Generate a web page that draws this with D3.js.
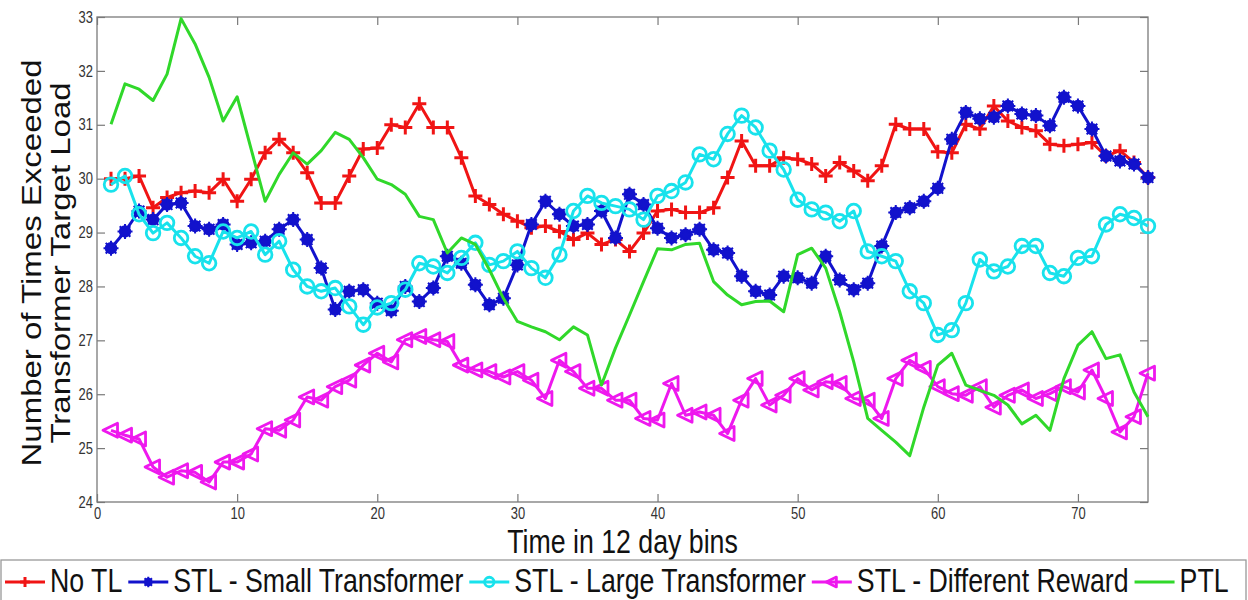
<!DOCTYPE html>
<html>
<head>
<meta charset="utf-8">
<script src="https://cdn.jsdelivr.net/npm/d3@7"></script>
<style>
  body { margin: 0; background: #fff; }
  svg { display: block; font-family: "Liberation Sans", Arial, sans-serif; }
  .axis path { display: none; }
  .axis line { stroke: #7a7a7a; stroke-width: 1.2; }
  .axis text { fill: #333; font-size: 16px; }
  .frame { fill: none; stroke: #7a7a7a; stroke-width: 1.3; }
  .series { fill: none; stroke-width: 3; stroke-linejoin: round; }
  .label { font-size: 33px; fill: #111; }
</style>
</head>
<body>
<svg id="chart" width="1248" height="600"></svg>
<script>
  // time bins 1..75
  var bins = d3.range(1, 76);

  var noTL = [30.0, 30.0, 30.05, 29.46, 29.65, 29.74, 29.77, 29.74, 29.99, 29.58,
    29.99, 30.48, 30.73, 30.48, 30.11, 29.55, 29.55, 30.05, 30.55, 30.57,
    31.0, 30.95, 31.39, 30.95, 30.95, 30.39, 29.68, 29.52, 29.34, 29.21,
    29.09, 29.12, 29.02, 28.87, 28.99, 28.78, 28.87, 28.65, 28.99, 29.4,
    29.43, 29.37, 29.37, 29.46, 30.02, 30.7, 30.24, 30.24, 30.39, 30.36,
    30.27, 30.05, 30.3, 30.14, 29.96, 30.24, 31.01, 30.92, 30.92, 30.5,
    30.48, 31.01, 30.92, 31.35, 31.07, 30.95, 30.89, 30.64, 30.61, 30.64,
    30.67, 30.42, 30.52, 30.3, 30.02];

  var stlSmall = [28.71, 29.02, 29.4, 29.24, 29.52, 29.55, 29.12, 29.06, 29.15, 28.78,
    28.81, 28.84, 29.06, 29.24, 28.87, 28.34, 27.57, 27.91, 27.94, 27.69,
    27.55, 28.0, 27.72, 27.97, 28.56, 28.43, 28.03, 27.66, 27.78, 28.4,
    29.15, 29.58, 29.34, 29.12, 29.15, 29.4, 28.9, 29.71, 29.52, 29.08,
    28.9, 28.96, 29.06, 28.68, 28.62, 28.19, 27.91, 27.84, 28.19, 28.16,
    28.06, 28.56, 28.12, 27.94, 28.06, 28.75, 29.37, 29.46, 29.58, 29.82,
    30.73, 31.23, 31.11, 31.14, 31.35, 31.2, 31.17, 30.98, 31.51, 31.35,
    30.92, 30.42, 30.33, 30.27, 30.02];

  var stlLarge = [29.89, 30.05, 29.34, 28.99, 29.18, 28.9, 28.56, 28.43, 29.02, 28.9,
    29.02, 28.59, 28.84, 28.31, 28.0, 27.91, 27.97, 27.63, 27.29, 27.61,
    27.69, 27.94, 28.43, 28.37, 28.25, 28.53, 28.81, 28.4, 28.47, 28.65,
    28.34, 28.16, 28.59, 29.4, 29.68, 29.55, 29.49, 29.43, 29.24, 29.68,
    29.77, 29.93, 30.45, 30.36, 30.83, 31.17, 30.95, 30.52, 30.17, 29.61,
    29.43, 29.37, 29.21, 29.4, 28.65, 28.56, 28.47, 27.91, 27.69, 27.1,
    27.19, 27.69, 28.5, 28.28, 28.37, 28.75, 28.75, 28.25, 28.19, 28.53,
    28.56, 29.15, 29.34, 29.27, 29.12];

  var diffReward = [25.33, 25.24, 25.17, 24.65, 24.46, 24.58, 24.55, 24.37, 24.74, 24.74,
    24.89, 25.36, 25.33, 25.52, 25.95, 25.89, 26.14, 26.26, 26.54, 26.76,
    26.6, 27.01, 27.07, 27.01, 26.98, 26.54, 26.45, 26.42, 26.32, 26.42,
    26.26, 25.92, 26.63, 26.42, 26.11, 26.11, 25.89, 25.89, 25.55, 25.52,
    26.2, 25.61, 25.67, 25.61, 25.27, 25.89, 26.29, 25.8, 25.98, 26.29,
    26.08, 26.23, 26.2, 25.92, 25.89, 25.55, 26.29, 26.63, 26.48, 26.14,
    26.01, 25.98, 26.14, 25.76, 25.98, 26.08, 25.92, 26.01, 26.14, 26.04,
    26.45, 25.92, 25.3, 25.58, 26.39];

  var ptl = [31.01, 31.76, 31.66, 31.45, 31.94, 32.97, 32.5, 31.88, 31.07, 31.52,
    30.55, 29.58, 30.08, 30.48, 30.27, 30.52, 30.86, 30.73, 30.39, 29.99,
    29.89, 29.71, 29.3, 29.24, 28.62, 28.9, 28.78, 28.31, 27.78, 27.35,
    27.25, 27.16, 27.01, 27.25, 27.1, 26.17, 26.86, 27.47, 28.09, 28.7,
    28.68, 28.78, 28.8, 28.09, 27.84, 27.66, 27.72, 27.73, 27.53, 28.59,
    28.71, 28.34, 27.53, 26.6, 25.55, 25.33, 25.11, 24.86, 25.76, 26.54,
    26.76, 26.17, 26.07, 25.98, 25.8, 25.45, 25.61, 25.33, 26.29, 26.91,
    27.16, 26.66, 26.73, 26.04, 25.58];

  var seriesNames = ["No TL", "STL - Small Transformer", "STL - Large Transformer",
    "STL - Different Reward", "PTL"];
  var seriesColors = ["#f01414", "#1212cc", "#18e2ec", "#ee18ee", "#30d82a"];
  var seriesMarkers = ["plus", "dot", "circle", "triangle", "none"];
  var xTicks = [0, 10, 20, 30, 40, 50, 60, 70];
  var yTicks = [24, 25, 26, 27, 28, 29, 30, 31, 32, 33];

  var series = [noTL, stlSmall, stlLarge, diffReward, ptl].map(function(vals, i) {
    return {name: seriesNames[i], color: seriesColors[i], marker: seriesMarkers[i], values: vals};
  });

  var squish = 0.81;   // the figure is narrower than its text
  var svg = d3.select('#chart');
  var plotL = 97, plotR = 1148, plotT = 17, plotB = 502;

  var x = d3.scaleLinear().domain([0, 75]).range([plotL, plotR]);
  var y = d3.scaleLinear().domain([24, 33]).range([plotB, plotT]);

  // axes, ticks pointing inwards on all four sides
  svg.append('g').attr('class', 'axis').attr('transform', `translate(0,${plotB})`)
    .call(d3.axisBottom(x).tickValues(xTicks).tickSizeInner(-8).tickSizeOuter(0).tickPadding(6))
    .selectAll('text').attr('transform', `scale(${squish},1)`);
  svg.append('g').attr('class', 'axis').attr('transform', `translate(0,${plotT})`)
    .call(d3.axisTop(x).tickValues(xTicks).tickSizeInner(-8).tickSizeOuter(0).tickFormat(''));
  svg.append('g').attr('class', 'axis').attr('transform', `translate(${plotL},0)`)
    .call(d3.axisLeft(y).tickValues(yTicks).tickSizeInner(-8).tickSizeOuter(0).tickPadding(5))
    .selectAll('text').attr('transform', `scale(${squish},1)`);
  svg.append('g').attr('class', 'axis').attr('transform', `translate(${plotR},0)`)
    .call(d3.axisRight(y).tickValues(yTicks).tickSizeInner(-8).tickSizeOuter(0).tickFormat(''));

  svg.append('rect').attr('class', 'frame')
    .attr('x', plotL).attr('y', plotT).attr('width', plotR - plotL).attr('height', plotB - plotT);

  function drawMarker(g, kind, color, s) {
    if (kind === 'plus') {
      g.append('path').attr('d', `M${-7*s},0H${7*s}M0,${-7*s}V${7*s}`)
        .attr('stroke', color).attr('stroke-width', 3).attr('fill', 'none');
    } else if (kind === 'dot') {
      g.append('circle').attr('r', 6.2 * s).attr('fill', color);
      g.append('path')
        .attr('d', `M${-7.5*s},0H${7.5*s}M0,${-7.5*s}V${7.5*s}M${-5.3*s},${-5.3*s}L${5.3*s},${5.3*s}M${-5.3*s},${5.3*s}L${5.3*s},${-5.3*s}`)
        .attr('stroke', color).attr('stroke-width', 2).attr('fill', 'none');
    } else if (kind === 'circle') {
      g.append('circle').attr('r', 6.8 * s).attr('fill', 'none')
        .attr('stroke', color).attr('stroke-width', 2.8);
    } else if (kind === 'triangle') {
      g.append('path').attr('d', `M${-8*s},0L${6.5*s},${-7*s}L${6.5*s},${7*s}Z`)
        .attr('fill', 'none').attr('stroke', color).attr('stroke-width', 2.8)
        .attr('stroke-linejoin', 'round');
    }
  }

  var line = d3.line().x(function(d, i) { return x(bins[i]); }).y(function(d) { return y(d); });

  series.forEach(function(s) {
    var g = svg.append('g');
    g.append('path').attr('class', 'series').attr('stroke', s.color).attr('d', line(s.values));
    if (s.marker !== 'none') {
      g.selectAll('.m').data(s.values).enter().append('g').attr('class', 'm')
        .attr('transform', function(d, i) { return `translate(${x(bins[i])},${y(d)})`; })
        .each(function() { drawMarker(d3.select(this), s.marker, s.color, 1); });
    }
  });

  // axis titles
  svg.append('text').attr('class', 'label').attr('text-anchor', 'middle')
    .attr('transform', `translate(${(plotL + plotR) / 2},553) scale(${squish},1)`)
    .text('Time in 12 day bins');
  svg.append('text').attr('class', 'label').attr('text-anchor', 'middle')
    .attr('transform', `translate(41,263) scale(${squish},1) rotate(-90)`)
    .text('Number of Times Exceeded');
  svg.append('text').attr('class', 'label').attr('text-anchor', 'middle')
    .attr('transform', `translate(70,263) scale(${squish},1) rotate(-90)`)
    .text('Transformer Target Load');

  // legend along the bottom
  svg.append('rect').attr('x', 1).attr('y', 560).attr('width', 1245).attr('height', 60)
    .attr('fill', '#fff').attr('stroke', '#999').attr('stroke-width', 1.3);
  var lx = 5, ly = 582;
  series.forEach(function(s) {
    var g = svg.append('g');
    g.append('line').attr('x1', lx).attr('x2', lx + 40).attr('y1', ly).attr('y2', ly)
      .attr('stroke', s.color).attr('stroke-width', 3);
    if (s.marker !== 'none') {
      drawMarker(g.append('g').attr('transform', `translate(${lx + 20},${ly})`), s.marker, s.color, 0.7);
    }
    var t = g.append('text').attr('class', 'label')
      .attr('transform', `translate(${lx + 45},592) scale(${squish},1)`)
      .text(s.name);
    lx += 45 + t.node().getComputedTextLength() * squish + 6;
  });
</script>
</body>
</html>
